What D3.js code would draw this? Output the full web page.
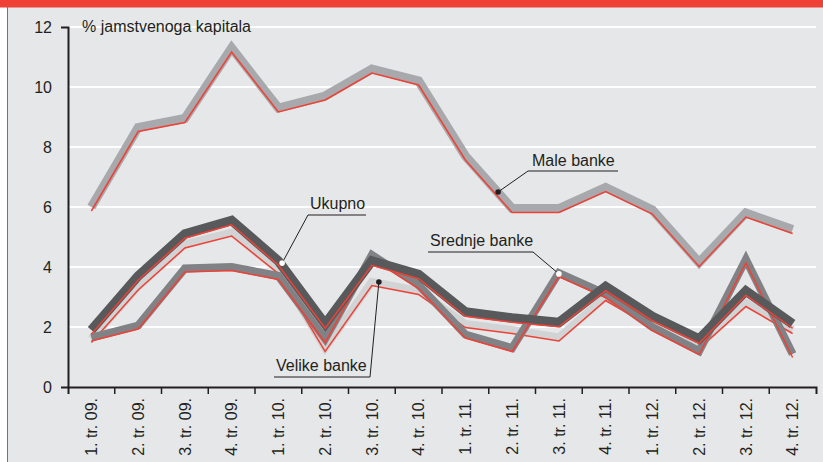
<!DOCTYPE html>
<html>
<head>
<meta charset="utf-8">
<title>Jamstveni kapital</title>
<style>
  body { margin: 0; background: #fff; }
  svg text { font-family: "Liberation Sans", Arial, sans-serif; fill: #231f20; }
</style>
</head>
<body>
<script src="https://d3js.org/d3.v7.min.js"></script>
<div id="chart"></div>
<script>

// quarters on the x axis
var quarters = ["1. tr. 09.", "2. tr. 09.", "3. tr. 09.", "4. tr. 09.",
                "1. tr. 10.", "2. tr. 10.", "3. tr. 10.", "4. tr. 10.",
                "1. tr. 11.", "2. tr. 11.", "3. tr. 11.", "4. tr. 11.",
                "1. tr. 12.", "2. tr. 12.", "3. tr. 12.", "4. tr. 12."];

// series values, % jamstvenoga kapitala
var maleBanke    = [6.0, 8.65, 8.95, 11.3, 9.3, 9.7, 10.6, 10.2, 7.7, 5.95, 5.95, 6.65, 5.9, 4.15, 5.8, 5.25];
var velikeBanke  = [1.6, 3.35, 4.75, 5.15, 3.9, 1.3, 3.5, 3.2, 2.1, 1.9, 1.65, 3.0, 2.1, 1.4, 2.8, 1.9];
var srednjeBanke = [1.65, 2.05, 3.95, 4.0, 3.7, 1.6, 4.4, 3.4, 1.75, 1.3, 3.8, 3.1, 2.0, 1.2, 4.25, 1.1];
var ukupno       = [1.9, 3.7, 5.1, 5.55, 4.2, 2.1, 4.2, 3.75, 2.5, 2.3, 2.15, 3.35, 2.35, 1.6, 3.2, 2.1];

var yTicks = [0, 2, 4, 6, 8, 10, 12];

var width = 823, height = 462;
var plotL = 68, plotR = 816, plotT = 27, plotB = 387;

var svg = d3.select("#chart").append("svg")
    .attr("width", width)
    .attr("height", height);

// background, red band on top and thin red border on the left
svg.append("rect").attr("x", 7).attr("y", 0).attr("width", width - 7).attr("height", height).attr("fill", "#e6e7e8");
svg.append("rect").attr("x", 0).attr("y", 0).attr("width", width).attr("height", 7.5).attr("fill", "#ef4136");
svg.append("line").attr("x1", 7.5).attr("x2", 7.5).attr("y1", 0).attr("y2", height)
    .attr("stroke", "#ef4136").attr("stroke-width", 1);

var x = d3.scaleBand().domain(quarters).range([plotL, plotR]).padding(0);
var y = d3.scaleLinear().domain([0, 12]).range([plotB, plotT]);

function cx(i) { return x(quarters[0]) + x.bandwidth() * (i + 0.5); }

// white grid lines
svg.append("g").selectAll("line")
  .data(yTicks.filter(function(d) { return d > 0; }))
  .enter().append("line")
    .attr("x1", plotL).attr("x2", plotR)
    .attr("y1", function(d) { return y(d); })
    .attr("y2", function(d) { return y(d); })
    .attr("stroke", "#ffffff")
    .attr("stroke-width", 2);

// y axis
var yAxis = svg.append("g")
    .attr("transform", "translate(" + plotL + ",0)")
    .call(d3.axisLeft(y).tickValues(yTicks).tickSizeInner(0).tickSizeOuter(7).tickPadding(16));
yAxis.select(".domain").attr("stroke", "#231f20").attr("stroke-width", 2);
yAxis.selectAll("text").style("font-size", "16px").attr("fill", "#231f20")
    .style("font-family", "'Liberation Sans', Arial, sans-serif");

// x axis, ticks between quarters
var xAxis = svg.append("g")
    .attr("transform", "translate(0," + plotB + ")")
    .call(d3.axisBottom(x).tickSizeInner(0).tickSizeOuter(7).tickFormat(""));
xAxis.select(".domain").attr("stroke", "#231f20").attr("stroke-width", 2);

svg.append("g").selectAll("line")
  .data(quarters.slice(1))
  .enter().append("line")
    .attr("x1", function(d) { return x(d); })
    .attr("x2", function(d) { return x(d); })
    .attr("y1", plotB).attr("y2", plotB + 7)
    .attr("stroke", "#231f20")
    .attr("stroke-width", 1.5);

svg.append("g").selectAll("text")
  .data(quarters)
  .enter().append("text")
    .attr("transform", function(d) { return "translate(" + (x(d) + x.bandwidth() / 2) + "," + (plotB + 11) + ") rotate(-90)"; })
    .attr("dy", "0.36em")
    .attr("text-anchor", "end")
    .style("font-size", "16px")
    .text(function(d) { return d; });

// unit label
svg.append("text")
    .attr("x", 82).attr("y", 32)
    .style("font-size", "16px")
    .text("% jamstvenoga kapitala");

// lines: grey band with a thin red line along its lower edge
var series = [
  { name: "Male banke",    values: maleBanke,    color: "#a7a9ac", w: 9 },
  { name: "Velike banke",  values: velikeBanke,  color: "#d1d3d4", w: 8 },
  { name: "Srednje banke", values: srednjeBanke, color: "#808285", w: 8 },
  { name: "Ukupno",        values: ukupno,       color: "#58595b", w: 9.5 }
];

var line = d3.line()
    .x(function(d, i) { return cx(i); })
    .y(function(d) { return y(d); });

series.forEach(function(s) {
  var g = svg.append("g");
  g.append("path")
    .attr("d", line(s.values))
    .attr("fill", "none")
    .attr("stroke", s.color)
    .attr("stroke-width", s.w)
    .attr("stroke-linejoin", "miter")
    .attr("stroke-miterlimit", 10);
  g.append("path")
    .attr("d", line(s.values))
    .attr("transform", "translate(0," + (s.w / 2 - 0.5) + ")")
    .attr("fill", "none")
    .attr("stroke", "#ef4136")
    .attr("stroke-width", 1.5)
    .attr("stroke-linejoin", "miter");
});

// labels with leader lines: dot on the line, elbow at the underline
var notes = [
  { text: "Male banke",    i: 8.7,  v: 6.5,  dot: "#231f20", tx: 532, ty: 166, ux1: 528, ux2: 618, uy: 171, elbowLeft: true },
  { text: "Ukupno",        i: 4.08, v: 4.13, dot: "#ffffff", tx: 310, ty: 209, ux1: 308, ux2: 366, uy: 215, elbowLeft: true },
  { text: "Srednje banke", i: 10,   v: 3.77, dot: "#ffffff", tx: 430, ty: 246, ux1: 428, ux2: 533, uy: 252, elbowLeft: false },
  { text: "Velike banke",  i: 6.15, v: 3.5,  dot: "#231f20", tx: 276, ty: 371, ux1: 274, ux2: 370, uy: 377, elbowLeft: false }
];

notes.forEach(function(n) {
  var px = cx(n.i), py = y(n.v);
  var elbow = n.elbowLeft ? n.ux1 : n.ux2;
  var far = n.elbowLeft ? n.ux2 : n.ux1;
  svg.append("polyline")
    .attr("points", [[px, py], [elbow, n.uy], [far, n.uy]].join(" "))
    .attr("fill", "none")
    .attr("stroke", "#231f20")
    .attr("stroke-width", 1);
  svg.append("circle")
    .attr("cx", px).attr("cy", py).attr("r", 2.8)
    .attr("fill", n.dot);
  svg.append("text")
    .attr("x", n.tx).attr("y", n.ty)
    .style("font-size", "16px")
    .text(n.text);
});

</script>
</body>
</html>
